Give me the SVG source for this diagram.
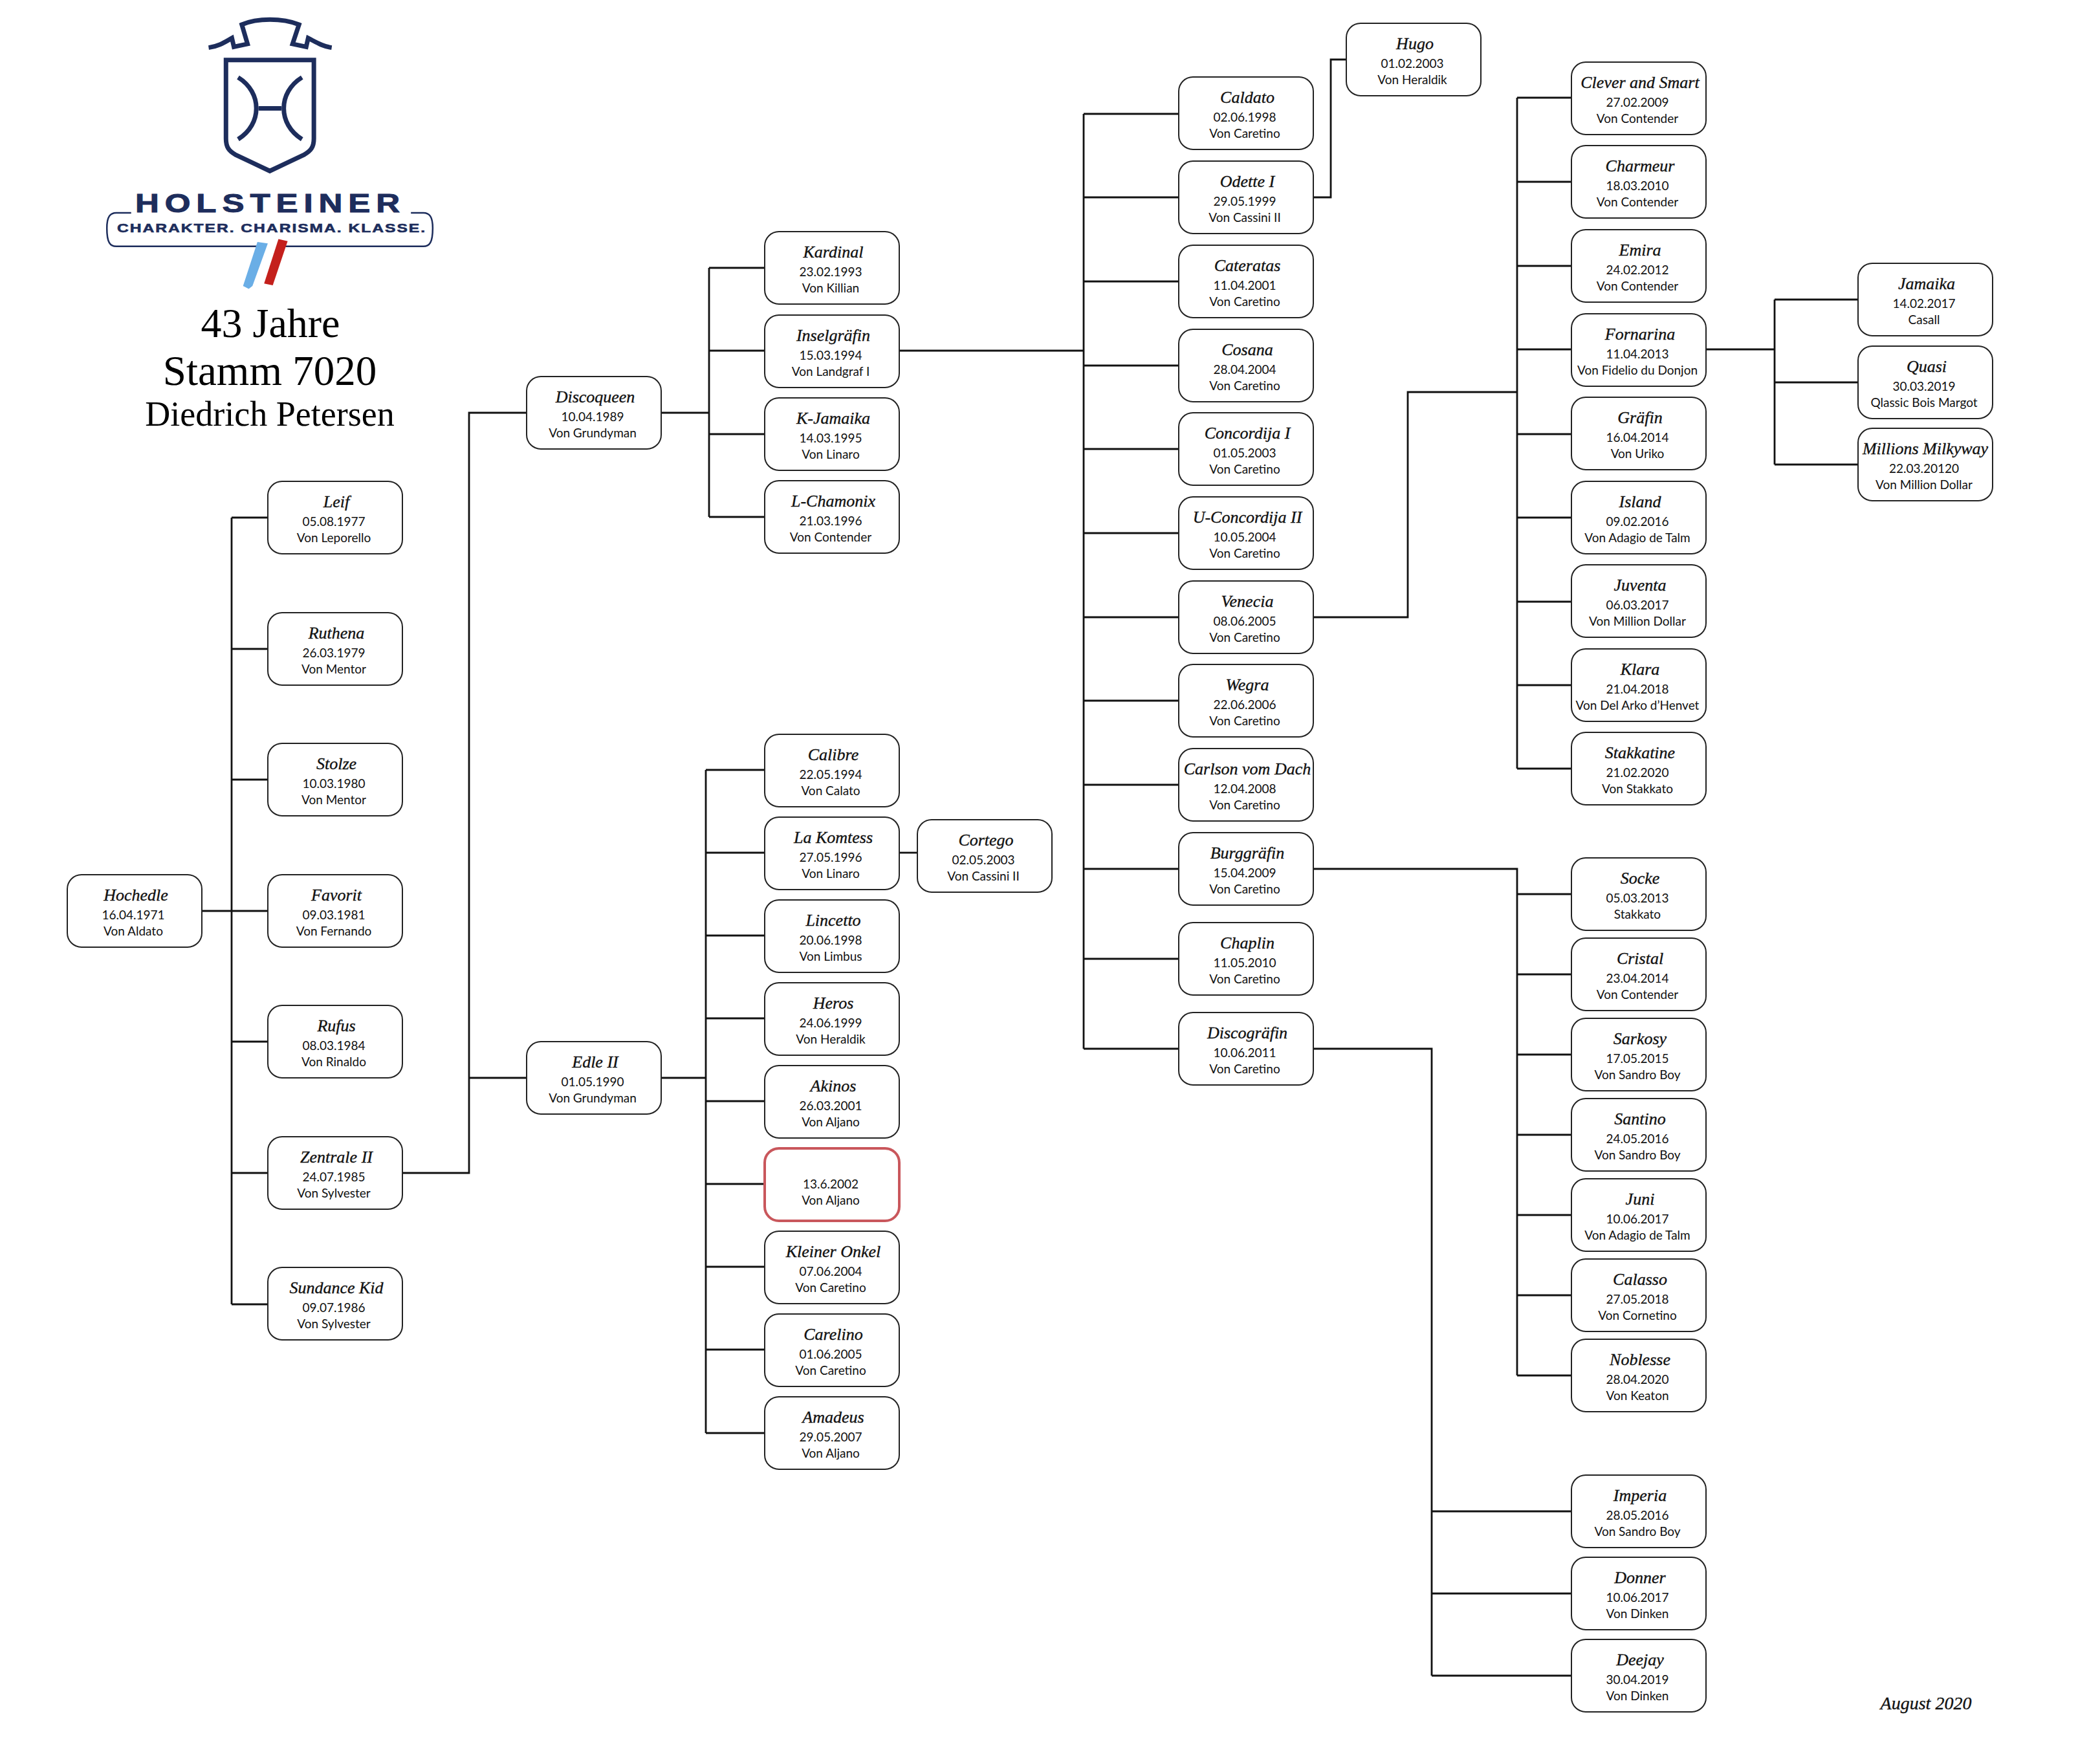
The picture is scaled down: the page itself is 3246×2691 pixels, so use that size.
<svg xmlns="http://www.w3.org/2000/svg" width="3246" height="2691" viewBox="0 0 3246 2691">
<style>
rect.b{fill:#fff;stroke:#222;stroke-width:2;}
rect.r{stroke:#c9575c;stroke-width:4;}
text{text-anchor:middle;fill:#111;}
.n{font:italic 26px "Liberation Serif",serif;stroke:#111;stroke-width:.35;}
.d{font:19px Lato,"Open Sans",sans-serif;}
#connectors path{fill:none;stroke:#111;stroke-width:2.8;}
.t{font-family:"Liberation Serif",serif;fill:#000;}
.l{font-family:"Liberation Sans",sans-serif;font-weight:bold;fill:#1d2d5c;stroke:#1d2d5c;}
</style>
<defs>
<rect id="box" class="b" width="208" height="112" rx="22"/>
</defs>
<rect width="3246" height="2691" fill="#fff"/>
<g id="logo">
<g transform="translate(130,0) scale(.3827,.4464)" fill="none" stroke="#1d2d5c" stroke-width="7" >
<path vector-effect="non-scaling-stroke" d="M503 165C545 160 570 145 597 132L605 162L660 152L637 85C700 62 800 62 868 85L842 152L897 162L905 132C935 145 960 160 1000 165"/>
<path vector-effect="non-scaling-stroke" d="M573 208H928V480C928 510 915 522 890 535L750 592L610 535C585 522 573 510 573 480Z"/>
<path vector-effect="non-scaling-stroke" d="M622 268C720 320 720 430 622 482M880 268C782 320 782 430 880 482M705 375H797"/>
<path vector-effect="non-scaling-stroke" stroke-width="2.5" d="M190 737H130C105 737 92 750 92 790C92 840 105 853 130 853H700M810 853H1370C1395 853 1408 840 1408 790C1408 750 1395 737 1370 737H1320"/>
<path fill="#6aaee6" stroke="none" d="M700 838L742 843L680 990L665 1000L642 990Z"/>
<path fill="#c4201c" stroke="none" d="M785 828L822 835L762 988L727 982Z"/>
</g>
<text class="l" x="418" y="328" font-size="40" letter-spacing="7" stroke-width="1" textLength="418" lengthAdjust="spacingAndGlyphs">HOLSTEINER</text>
<text class="l" x="420" y="359" font-size="19" letter-spacing="1.5" stroke-width=".6" textLength="478" lengthAdjust="spacingAndGlyphs">CHARAKTER. CHARISMA. KLASSE.</text>
</g>
<g id="title">
<text class="t" x="418" y="521" font-size="64">43 Jahre</text>
<text class="t" x="417" y="595" font-size="65">Stamm 7020</text>
<text class="t" x="417" y="658" font-size="54">Diedrich Petersen</text>
</g>
<g id="connectors">
<path d="M312 1408H414M358 800V2016M358 800H414M358 1003H414M358 1205H414M358 1610H414M358 1813H414M358 2016H414"/>
<path d="M622 1813H725V638H814M725 1666H814"/>
<path d="M1022 638H1096M1096 414V799M1096 414H1182M1096 542H1182M1096 671H1182M1096 799H1182"/>
<path d="M1022 1666H1091M1091 1190V2215M1091 1190H1182M1091 1318H1182M1091 1446H1182M1091 1574H1182M1091 1702H1182M1091 1830H1182M1091 1958H1182M1091 2086H1182M1091 2215H1182"/>
<path d="M1390 1318H1418"/>
<path d="M1390 542H1675M1675 176V1621M1675 176H1822M1675 305H1822M1675 435H1822M1675 565H1822M1675 694H1822M1675 824H1822M1675 954H1822M1675 1083H1822M1675 1213H1822M1675 1343H1822M1675 1482H1822M1675 1621H1822"/>
<path d="M2030 305H2057V92H2081"/>
<path d="M2030 954H2176V606H2345M2345 151V1188M2345 151H2429M2345 281H2429M2345 411H2429M2345 540H2429M2345 671H2429M2345 800H2429M2345 930H2429M2345 1059H2429M2345 1188H2429"/>
<path d="M2637 540H2743M2743 463V718M2743 463H2872M2743 591H2872M2743 718H2872"/>
<path d="M2030 1343H2345V2126M2345 1382H2429M2345 1506H2429M2345 1630H2429M2345 1754H2429M2345 1878H2429M2345 2002H2429M2345 2126H2429"/>
<path d="M2030 1621H2213V2590M2213 2336H2429M2213 2463H2429M2213 2590H2429"/>
</g>
<g id="n1" transform="translate(104,1352)"><use href="#box"/><text class="n" x="106" y="40">Hochedle</text><text class="d" x="102" y="69">16.04.1971</text><text class="d" x="102" y="94">Von Aldato</text></g>
<g id="n2" transform="translate(414,744)"><use href="#box"/><text class="n" x="106" y="40">Leif</text><text class="d" x="102" y="69">05.08.1977</text><text class="d" x="102" y="94">Von Leporello</text></g>
<g id="n3" transform="translate(414,947)"><use href="#box"/><text class="n" x="106" y="40">Ruthena</text><text class="d" x="102" y="69">26.03.1979</text><text class="d" x="102" y="94">Von Mentor</text></g>
<g id="n4" transform="translate(414,1149)"><use href="#box"/><text class="n" x="106" y="40">Stolze</text><text class="d" x="102" y="69">10.03.1980</text><text class="d" x="102" y="94">Von Mentor</text></g>
<g id="n5" transform="translate(414,1352)"><use href="#box"/><text class="n" x="106" y="40">Favorit</text><text class="d" x="102" y="69">09.03.1981</text><text class="d" x="102" y="94">Von Fernando</text></g>
<g id="n6" transform="translate(414,1554)"><use href="#box"/><text class="n" x="106" y="40">Rufus</text><text class="d" x="102" y="69">08.03.1984</text><text class="d" x="102" y="94">Von Rinaldo</text></g>
<g id="n7" transform="translate(414,1757)"><use href="#box"/><text class="n" x="106" y="40">Zentrale II</text><text class="d" x="102" y="69">24.07.1985</text><text class="d" x="102" y="94">Von Sylvester</text></g>
<g id="n8" transform="translate(414,1959)"><use href="#box"/><text class="n" x="106" y="40">Sundance Kid</text><text class="d" x="102" y="69">09.07.1986</text><text class="d" x="102" y="94">Von Sylvester</text></g>
<g id="n9" transform="translate(814,582)"><use href="#box"/><text class="n" x="106" y="40">Discoqueen</text><text class="d" x="102" y="69">10.04.1989</text><text class="d" x="102" y="94">Von Grundyman</text></g>
<g id="n10" transform="translate(814,1610)"><use href="#box"/><text class="n" x="106" y="40">Edle II</text><text class="d" x="102" y="69">01.05.1990</text><text class="d" x="102" y="94">Von Grundyman</text></g>
<g id="n11" transform="translate(1182,358)"><use href="#box"/><text class="n" x="106" y="40">Kardinal</text><text class="d" x="102" y="69">23.02.1993</text><text class="d" x="102" y="94">Von Killian</text></g>
<g id="n12" transform="translate(1182,487)"><use href="#box"/><text class="n" x="106" y="40">Inselgräfin</text><text class="d" x="102" y="69">15.03.1994</text><text class="d" x="102" y="94">Von Landgraf I</text></g>
<g id="n13" transform="translate(1182,615)"><use href="#box"/><text class="n" x="106" y="40">K-Jamaika</text><text class="d" x="102" y="69">14.03.1995</text><text class="d" x="102" y="94">Von Linaro</text></g>
<g id="n14" transform="translate(1182,743)"><use href="#box"/><text class="n" x="106" y="40">L-Chamonix</text><text class="d" x="102" y="69">21.03.1996</text><text class="d" x="102" y="94">Von Contender</text></g>
<g id="n15" transform="translate(1182,1135)"><use href="#box"/><text class="n" x="106" y="40">Calibre</text><text class="d" x="102" y="69">22.05.1994</text><text class="d" x="102" y="94">Von Calato</text></g>
<g id="n16" transform="translate(1182,1263)"><use href="#box"/><text class="n" x="106" y="40">La Komtess</text><text class="d" x="102" y="69">27.05.1996</text><text class="d" x="102" y="94">Von Linaro</text></g>
<g id="n17" transform="translate(1182,1391)"><use href="#box"/><text class="n" x="106" y="40">Lincetto</text><text class="d" x="102" y="69">20.06.1998</text><text class="d" x="102" y="94">Von Limbus</text></g>
<g id="n18" transform="translate(1182,1519)"><use href="#box"/><text class="n" x="106" y="40">Heros</text><text class="d" x="102" y="69">24.06.1999</text><text class="d" x="102" y="94">Von Heraldik</text></g>
<g id="n19" transform="translate(1182,1647)"><use href="#box"/><text class="n" x="106" y="40">Akinos</text><text class="d" x="102" y="69">26.03.2001</text><text class="d" x="102" y="94">Von Aljano</text></g>
<g id="n20" transform="translate(1182,1775)"><rect class="b r" width="208" height="112" rx="22"/><text class="d" x="102" y="62">13.6.2002</text><text class="d" x="102" y="87">Von Aljano</text></g>
<g id="n21" transform="translate(1182,1903)"><use href="#box"/><text class="n" x="106" y="40">Kleiner Onkel</text><text class="d" x="102" y="69">07.06.2004</text><text class="d" x="102" y="94">Von Caretino</text></g>
<g id="n22" transform="translate(1182,2031)"><use href="#box"/><text class="n" x="106" y="40">Carelino</text><text class="d" x="102" y="69">01.06.2005</text><text class="d" x="102" y="94">Von Caretino</text></g>
<g id="n23" transform="translate(1182,2159)"><use href="#box"/><text class="n" x="106" y="40">Amadeus</text><text class="d" x="102" y="69">29.05.2007</text><text class="d" x="102" y="94">Von Aljano</text></g>
<g id="n24" transform="translate(1418,1267)"><use href="#box"/><text class="n" x="106" y="40">Cortego</text><text class="d" x="102" y="69">02.05.2003</text><text class="d" x="102" y="94">Von Cassini II</text></g>
<g id="n25" transform="translate(1822,119)"><use href="#box"/><text class="n" x="106" y="40">Caldato</text><text class="d" x="102" y="69">02.06.1998</text><text class="d" x="102" y="94">Von Caretino</text></g>
<g id="n26" transform="translate(1822,249)"><use href="#box"/><text class="n" x="106" y="40">Odette I</text><text class="d" x="102" y="69">29.05.1999</text><text class="d" x="102" y="94">Von Cassini II</text></g>
<g id="n27" transform="translate(1822,379)"><use href="#box"/><text class="n" x="106" y="40">Cateratas</text><text class="d" x="102" y="69">11.04.2001</text><text class="d" x="102" y="94">Von Caretino</text></g>
<g id="n28" transform="translate(1822,509)"><use href="#box"/><text class="n" x="106" y="40">Cosana</text><text class="d" x="102" y="69">28.04.2004</text><text class="d" x="102" y="94">Von Caretino</text></g>
<g id="n29" transform="translate(1822,638)"><use href="#box"/><text class="n" x="106" y="40">Concordija I</text><text class="d" x="102" y="69">01.05.2003</text><text class="d" x="102" y="94">Von Caretino</text></g>
<g id="n30" transform="translate(1822,768)"><use href="#box"/><text class="n" x="106" y="40">U-Concordija II</text><text class="d" x="102" y="69">10.05.2004</text><text class="d" x="102" y="94">Von Caretino</text></g>
<g id="n31" transform="translate(1822,898)"><use href="#box"/><text class="n" x="106" y="40">Venecia</text><text class="d" x="102" y="69">08.06.2005</text><text class="d" x="102" y="94">Von Caretino</text></g>
<g id="n32" transform="translate(1822,1027)"><use href="#box"/><text class="n" x="106" y="40">Wegra</text><text class="d" x="102" y="69">22.06.2006</text><text class="d" x="102" y="94">Von Caretino</text></g>
<g id="n33" transform="translate(1822,1157)"><use href="#box"/><text class="n" x="106" y="40">Carlson vom Dach</text><text class="d" x="102" y="69">12.04.2008</text><text class="d" x="102" y="94">Von Caretino</text></g>
<g id="n34" transform="translate(1822,1287)"><use href="#box"/><text class="n" x="106" y="40">Burggräfin</text><text class="d" x="102" y="69">15.04.2009</text><text class="d" x="102" y="94">Von Caretino</text></g>
<g id="n35" transform="translate(1822,1426)"><use href="#box"/><text class="n" x="106" y="40">Chaplin</text><text class="d" x="102" y="69">11.05.2010</text><text class="d" x="102" y="94">Von Caretino</text></g>
<g id="n36" transform="translate(1822,1565)"><use href="#box"/><text class="n" x="106" y="40">Discogräfin</text><text class="d" x="102" y="69">10.06.2011</text><text class="d" x="102" y="94">Von Caretino</text></g>
<g id="n37" transform="translate(2081,36)"><use href="#box"/><text class="n" x="106" y="40">Hugo</text><text class="d" x="102" y="69">01.02.2003</text><text class="d" x="102" y="94">Von Heraldik</text></g>
<g id="n38" transform="translate(2429,96)"><use href="#box"/><text class="n" x="106" y="40">Clever and Smart</text><text class="d" x="102" y="69">27.02.2009</text><text class="d" x="102" y="94">Von Contender</text></g>
<g id="n39" transform="translate(2429,225)"><use href="#box"/><text class="n" x="106" y="40">Charmeur</text><text class="d" x="102" y="69">18.03.2010</text><text class="d" x="102" y="94">Von Contender</text></g>
<g id="n40" transform="translate(2429,355)"><use href="#box"/><text class="n" x="106" y="40">Emira</text><text class="d" x="102" y="69">24.02.2012</text><text class="d" x="102" y="94">Von Contender</text></g>
<g id="n41" transform="translate(2429,485)"><use href="#box"/><text class="n" x="106" y="40">Fornarina</text><text class="d" x="102" y="69">11.04.2013</text><text class="d" x="102" y="94">Von Fidelio du Donjon</text></g>
<g id="n42" transform="translate(2429,614)"><use href="#box"/><text class="n" x="106" y="40">Gräfin</text><text class="d" x="102" y="69">16.04.2014</text><text class="d" x="102" y="94">Von Uriko</text></g>
<g id="n43" transform="translate(2429,744)"><use href="#box"/><text class="n" x="106" y="40">Island</text><text class="d" x="102" y="69">09.02.2016</text><text class="d" x="102" y="94">Von Adagio de Talm</text></g>
<g id="n44" transform="translate(2429,873)"><use href="#box"/><text class="n" x="106" y="40">Juventa</text><text class="d" x="102" y="69">06.03.2017</text><text class="d" x="102" y="94">Von Million Dollar</text></g>
<g id="n45" transform="translate(2429,1003)"><use href="#box"/><text class="n" x="106" y="40">Klara</text><text class="d" x="102" y="69">21.04.2018</text><text class="d" x="102" y="94">Von Del Arko d’Henvet</text></g>
<g id="n46" transform="translate(2429,1132)"><use href="#box"/><text class="n" x="106" y="40">Stakkatine</text><text class="d" x="102" y="69">21.02.2020</text><text class="d" x="102" y="94">Von Stakkato</text></g>
<g id="n47" transform="translate(2429,1326)"><use href="#box"/><text class="n" x="106" y="40">Socke</text><text class="d" x="102" y="69">05.03.2013</text><text class="d" x="102" y="94">Stakkato</text></g>
<g id="n48" transform="translate(2429,1450)"><use href="#box"/><text class="n" x="106" y="40">Cristal</text><text class="d" x="102" y="69">23.04.2014</text><text class="d" x="102" y="94">Von Contender</text></g>
<g id="n49" transform="translate(2429,1574)"><use href="#box"/><text class="n" x="106" y="40">Sarkosy</text><text class="d" x="102" y="69">17.05.2015</text><text class="d" x="102" y="94">Von Sandro Boy</text></g>
<g id="n50" transform="translate(2429,1698)"><use href="#box"/><text class="n" x="106" y="40">Santino</text><text class="d" x="102" y="69">24.05.2016</text><text class="d" x="102" y="94">Von Sandro Boy</text></g>
<g id="n51" transform="translate(2429,1822)"><use href="#box"/><text class="n" x="106" y="40">Juni</text><text class="d" x="102" y="69">10.06.2017</text><text class="d" x="102" y="94">Von Adagio de Talm</text></g>
<g id="n52" transform="translate(2429,1946)"><use href="#box"/><text class="n" x="106" y="40">Calasso</text><text class="d" x="102" y="69">27.05.2018</text><text class="d" x="102" y="94">Von Cornetino</text></g>
<g id="n53" transform="translate(2429,2070)"><use href="#box"/><text class="n" x="106" y="40">Noblesse</text><text class="d" x="102" y="69">28.04.2020</text><text class="d" x="102" y="94">Von Keaton</text></g>
<g id="n54" transform="translate(2429,2280)"><use href="#box"/><text class="n" x="106" y="40">Imperia</text><text class="d" x="102" y="69">28.05.2016</text><text class="d" x="102" y="94">Von Sandro Boy</text></g>
<g id="n55" transform="translate(2429,2407)"><use href="#box"/><text class="n" x="106" y="40">Donner</text><text class="d" x="102" y="69">10.06.2017</text><text class="d" x="102" y="94">Von Dinken</text></g>
<g id="n56" transform="translate(2429,2534)"><use href="#box"/><text class="n" x="106" y="40">Deejay</text><text class="d" x="102" y="69">30.04.2019</text><text class="d" x="102" y="94">Von Dinken</text></g>
<g id="n57" transform="translate(2872,407)"><use href="#box"/><text class="n" x="106" y="40">Jamaika</text><text class="d" x="102" y="69">14.02.2017</text><text class="d" x="102" y="94">Casall</text></g>
<g id="n58" transform="translate(2872,535)"><use href="#box"/><text class="n" x="106" y="40">Quasi</text><text class="d" x="102" y="69">30.03.2019</text><text class="d" x="102" y="94">Qlassic Bois Margot</text></g>
<g id="n59" transform="translate(2872,662)"><use href="#box"/><text class="n" x="104" y="40">Millions Milkyway</text><text class="d" x="102" y="69">22.03.20120</text><text class="d" x="102" y="94">Von Million Dollar</text></g>
<text id="date" class="n" x="2977" y="2642" style="font-size:28px">August 2020</text>
</svg>
